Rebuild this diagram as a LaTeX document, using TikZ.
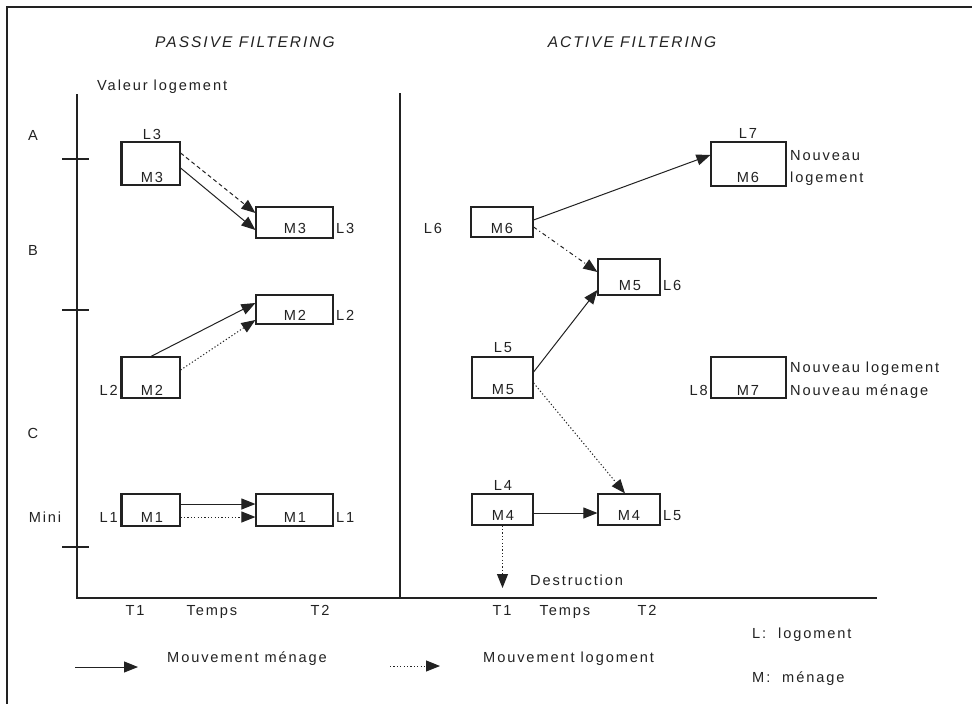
\documentclass[tikz,border=0pt]{standalone}
\usepackage{fontspec}
\setmainfont{Liberation Sans}[LetterSpace=13]
\usetikzlibrary{arrows.meta}
\definecolor{ink}{HTML}{222222}
\begin{document}
\begin{tikzpicture}[x=1pt,y=-1pt,
  box/.style={draw=ink, line width=1.2pt, inner sep=0pt},
  txt/.style={inner sep=0pt, text height=10.5pt, text depth=0pt,
    font=\fontsize{14.6}{17}\selectfont, text=ink},
  ttl/.style={inner sep=0pt, font=\fontsize{15.5}{18}\selectfont\itshape, text=ink},
  axis/.style={draw=ink, line width=1.2pt},
  tip/.style={-{Triangle[length=14pt,width=11pt]}},
  hmove/.style={tip, draw=ink, line width=1pt},
  lmove/.style={tip, draw=ink, line width=1pt, dash pattern=on 1.2pt off 2.2pt},
  ldash/.style={tip, draw=ink, line width=1pt, dash pattern=on 4pt off 3pt},
  ldashdot/.style={tip, draw=ink, line width=1pt, dash pattern=on 4pt off 3pt on 1pt off 3pt}]
\useasboundingbox (0,0) rectangle (972,704);
\fill[white] (0,0) rectangle (972,704);

% outer frame
\draw[ink, line width=1.6pt] (7,704) -- (7,7) -- (972,7);

% titles
\node[ttl] (tp) at (245,42) {PASSIVE FILTERING};
\node[ttl] (ta) at (632,42) {ACTIVE FILTERING};
\node[txt, anchor=west] (vl) at (97,85) {Valeur logement};

% axes and separator
\draw[axis] (77,94) -- (77,598) -- (877,598);
\draw[axis] (400,93) -- (400,598);
\foreach \yy in {159,310,547} \draw[axis] (62,\yy) -- (89,\yy);

% value classes
\node[txt] (cA) at (33,135) {A};
\node[txt] (cB) at (33,250) {B};
\node[txt] (cC) at (33,433) {C};
\node[txt] (cMini) at (45,517) {Mini};

% ---------- passive filtering ----------
\node[box, minimum width=58pt, minimum height=43pt] (bA) at (151,163.5) {};
\node[box, minimum width=77pt, minimum height=31pt] (bB) at (294.5,222.5) {};
\node[box, minimum width=77pt, minimum height=29pt] (bC) at (294.5,309.5) {};
\node[box, minimum width=58pt, minimum height=41pt] (bD) at (151,377.5) {};
\node[box, minimum width=58pt, minimum height=32pt] (bE) at (151,510) {};
\node[box, minimum width=77pt, minimum height=32pt] (bF) at (294.5,510) {};
\foreach \b in {bA,bD,bE} \draw[ink, line width=2.2pt] (\b.north west) -- (\b.south west);

\node[txt] (a1) at (152,134) {L3};
\node[txt] (a2) at (152,177) {M3};
\node[txt] (b1) at (295,228) {M3};
\node[txt, anchor=west] (b2) at (336,228) {L3};
\node[txt] (c1) at (295,315) {M2};
\node[txt, anchor=west] (c2) at (336,315) {L2};
\node[txt, anchor=east] (d1) at (118,390) {L2};
\node[txt] (d2) at (152,390) {M2};
\node[txt, anchor=east] (e1) at (118,517) {L1};
\node[txt] (e2) at (152,517) {M1};
\node[txt] (f1) at (295,517) {M1};
\node[txt, anchor=west] (f2) at (336,517) {L1};

\draw[ldash] ([yshift=10.5pt]bA.east) -- ([yshift=9.5pt]bB.west);
\draw[hmove] ([yshift=-4.5pt]bA.east) -- ([yshift=-7.5pt]bB.west);
\draw[hmove] (bD.north) -- ([yshift=6.5pt]bC.west);
\draw[lmove] ([yshift=7.5pt]bD.east) -- ([yshift=-10.5pt]bC.west);
\draw[hmove] ([yshift=6pt]bE.east) -- ([yshift=6pt]bF.west);
\draw[lmove] ([yshift=-7pt]bE.east) -- ([yshift=-7pt]bF.west);

% ---------- active filtering ----------
\node[box, minimum width=62pt, minimum height=30pt] (bG) at (502,222) {};
\node[box, minimum width=75pt, minimum height=44pt] (bH) at (748.5,164) {};
\node[box, minimum width=62pt, minimum height=36pt] (bI) at (629,277) {};
\node[box, minimum width=61pt, minimum height=41pt] (bJ) at (502.5,377.5) {};
\node[box, minimum width=75pt, minimum height=41pt] (bK) at (748.5,377.5) {};
\node[box, minimum width=61pt, minimum height=31pt] (bL) at (502.5,509.5) {};
\node[box, minimum width=62pt, minimum height=31pt] (bM) at (629,509.5) {};

\node[txt] (g1) at (433,228) {L6};
\node[txt] (g2) at (502,228) {M6};
\node[txt] (h1) at (748,133) {L7};
\node[txt] (h2) at (748,177) {M6};
\node[txt, anchor=west] (h3) at (790,155) {Nouveau};
\node[txt, anchor=west] (h4) at (790,177) {logement};
\node[txt] (i1) at (630,285) {M5};
\node[txt, anchor=west] (i2) at (663,285) {L6};
\node[txt] (j1) at (503,347) {L5};
\node[txt] (j2) at (503,389) {M5};
\node[txt, anchor=east] (k1) at (708,390) {L8};
\node[txt] (k2) at (748,390) {M7};
\node[txt, anchor=west] (k3) at (790,367) {Nouveau logement};
\node[txt, anchor=west] (k4) at (790,390) {Nouveau ménage};
\node[txt] (l1) at (503,485) {L4};
\node[txt] (l2) at (503,515) {M4};
\node[txt] (m1) at (629,515) {M4};
\node[txt, anchor=west] (m2) at (663,515) {L5};
\node[txt, anchor=west] (dx) at (530,580) {Destruction};
\coordinate (dend) at (502.5,588);

\draw[hmove] ([yshift=2pt]bG.east) -- ([yshift=9pt]bH.west);
\draw[ldashdot] ([yshift=-5pt]bG.east) -- ([yshift=5pt]bI.west);
\draw[hmove] ([yshift=5.5pt]bJ.east) -- ([yshift=-13pt]bI.west);
\draw[lmove] ([yshift=-5.5pt]bJ.east) -- ([xshift=-4pt]bM.north);
\draw[hmove] ([yshift=-3.5pt]bL.east) -- ([yshift=-3.5pt]bM.west);
\draw[lmove] (bL.south) -- (dend);

% time axis labels
\node[txt] (t1) at (135,610) {T1};
\node[txt] (t2) at (212,610) {Temps};
\node[txt] (t3) at (320,610) {T2};
\node[txt] (t4) at (502,610) {T1};
\node[txt] (t5) at (565,610) {Temps};
\node[txt] (t6) at (647,610) {T2};

% legend
\coordinate (s1) at (75,667);
\coordinate (s2) at (138,667);
\coordinate (d1) at (390,666);
\coordinate (d2) at (440,666);
\draw[hmove] (s1) -- (s2);
\draw[lmove] (d1) -- (d2);
\node[txt, anchor=west] (lg1) at (167,657) {Mouvement ménage};
\node[txt, anchor=west] (lg2) at (483,657) {Mouvement logoment};
\node[txt, anchor=west] (lg3) at (752,633) {L:\ \ logoment};
\node[txt, anchor=west] (lg4) at (752,677) {M:\ \ ménage};
\end{tikzpicture}
\end{document}
